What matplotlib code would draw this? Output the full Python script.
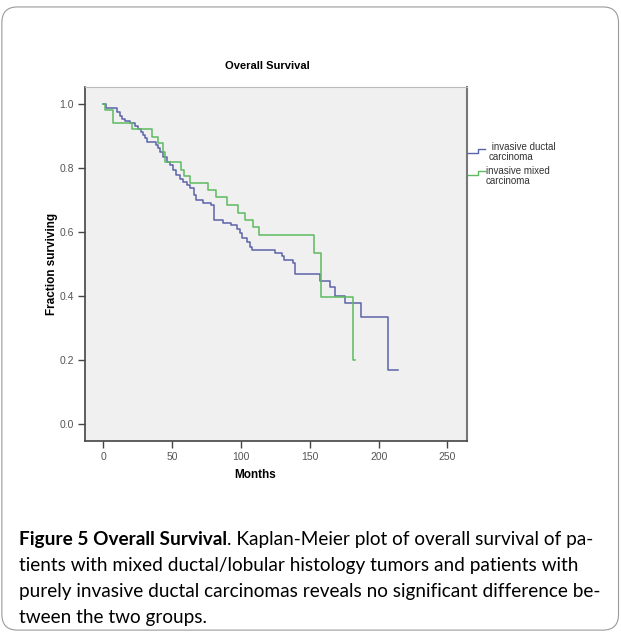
import matplotlib
matplotlib.use("Agg")
import matplotlib.pyplot as plt
from matplotlib.lines import Line2D
from matplotlib.patches import FancyBboxPatch

# Kaplan-Meier steps (month, fraction surviving)
ductal_t = [0, 1.5, 9.5, 12, 13.5, 15.5, 19, 23, 25, 27.5, 29, 30.5, 31.5, 38.5, 40, 41,
            43.5, 46, 48.5, 50.5, 53, 55.5, 58, 60.5, 63, 65.5, 67.5, 72.5, 78.5, 80, 87,
            93, 97, 99, 100.5, 104, 106.5, 108, 124.5, 129.5, 131, 138, 139.5, 157.5,
            164.5, 168.5, 175.5, 187, 207, 214]
ductal_s = [1.0, 0.987, 0.975, 0.963, 0.953, 0.947, 0.940, 0.930, 0.922, 0.913, 0.902,
            0.893, 0.882, 0.872, 0.861, 0.849, 0.835, 0.820, 0.808, 0.794, 0.778, 0.765,
            0.755, 0.748, 0.736, 0.716, 0.700, 0.690, 0.684, 0.638, 0.629, 0.623, 0.610,
            0.596, 0.580, 0.570, 0.552, 0.545, 0.535, 0.526, 0.513, 0.502, 0.469, 0.448,
            0.427, 0.401, 0.377, 0.335, 0.168, 0.168]

mixed_t = [0, 1, 7, 20.5, 35, 40, 43.5, 44.5, 56, 58.5, 63, 76, 82, 89.5, 98, 103, 109,
           113, 153, 158, 181.5, 182.5]
mixed_s = [1.0, 0.98, 0.94, 0.921, 0.898, 0.877, 0.85, 0.818, 0.794, 0.775, 0.752, 0.731,
           0.708, 0.684, 0.658, 0.638, 0.617, 0.590, 0.535, 0.398, 0.20, 0.20]

x_ticks = [0, 50, 100, 150, 200, 250]
y_ticks = [0.0, 0.2, 0.4, 0.6, 0.8, 1.0]

blue = '#5c62a8'
green = '#5dbb60'

fig = plt.figure(figsize=(6.21, 6.32), dpi=100)
plt.rcParams['font.family'] = 'Liberation Sans'

# rounded panel border
fig.add_artist(FancyBboxPatch((0.003, 0.003), 0.993, 0.986, boxstyle='round,pad=0,rounding_size=0.025',
                              transform=fig.transFigure, fill=False, edgecolor='#9a9a9a', linewidth=0.8))

ax = fig.add_axes([0.1369, 0.3022, 0.6151, 0.5601])
ax.set_facecolor('#f0f0f0')
ax.plot(ductal_t, ductal_s, drawstyle='steps-post', color=blue, linewidth=1.1)
ax.plot(mixed_t, mixed_s, drawstyle='steps-post', color=green, linewidth=1.1)

ax.set_xlim(-13.4, 264.2)
ax.set_ylim(-0.053, 1.053)
ax.set_xticks(x_ticks)
ax.set_yticks(y_ticks)
ax.set_yticklabels(['%.1f' % v for v in y_ticks])
ax.tick_params(direction='out', length=5, width=1, color='#444444', labelsize=7.5,
               labelcolor='#555555', pad=3)
for side in ['left', 'bottom']:
    ax.spines[side].set_color('#444444')
    ax.spines[side].set_linewidth(1.2)
ax.spines['top'].set_color('#bbbbbb')
ax.spines['right'].set_color('#777777')
ax.spines['right'].set_linewidth(1.5)

fig.text(0.43, 0.8956, 'Overall Survival', ha='center', va='center', fontsize=8, fontweight='bold')
fig.text(0.4106, 0.2484, 'Months', ha='center', va='center', fontsize=8.5, fontweight='bold')
fig.text(0.0837, 0.582, 'Fraction surviving', ha='center', va='center', rotation=90,
         fontsize=8.5, fontweight='bold')

# legend with step-shaped keys
W, H = 621.0, 632.0
def key(y_low, y_high, color):
    xs = [468 / W, 478 / W, 478 / W, 485 / W]
    ys = [1 - y_low / H, 1 - y_low / H, 1 - y_high / H, 1 - y_high / H]
    fig.add_artist(Line2D(xs, ys, color=color, linewidth=1, transform=fig.transFigure))

key(153, 149, blue)
key(175, 171, green)
fig.text(489 / W, 1 - 152 / H, ' invasive ductal\ncarcinoma', ha='left', va='center', fontsize=7,
         color='#333333', linespacing=1.0)
fig.text(486 / W, 1 - 175.5 / H, 'invasive mixed\ncarcinoma', ha='left', va='center', fontsize=7,
         color='#333333', linespacing=1.0)

# caption
cap_x = 19 / W
cap_size = 13.7
t1 = fig.text(cap_x, 1 - 545 / H, 'Figure 5 Overall Survival', fontsize=cap_size, fontweight='bold',
              family='Lato', va='baseline')
ax.annotate('. Kaplan-Meier plot of overall survival of pa-', xy=(1, 0), xycoords=t1,
            fontsize=cap_size, family='Lato', va='bottom', ha='left', annotation_clip=False)
rest = ['tients with mixed ductal/lobular histology tumors and patients with',
        'purely invasive ductal carcinomas reveals no significant difference be-',
        'tween the two groups.']
for i, line in enumerate(rest):
    fig.text(cap_x, 1 - (571 + 26 * i) / H, line, fontsize=cap_size, family='Lato', va='baseline')

fig.savefig('out.png', dpi=100)
